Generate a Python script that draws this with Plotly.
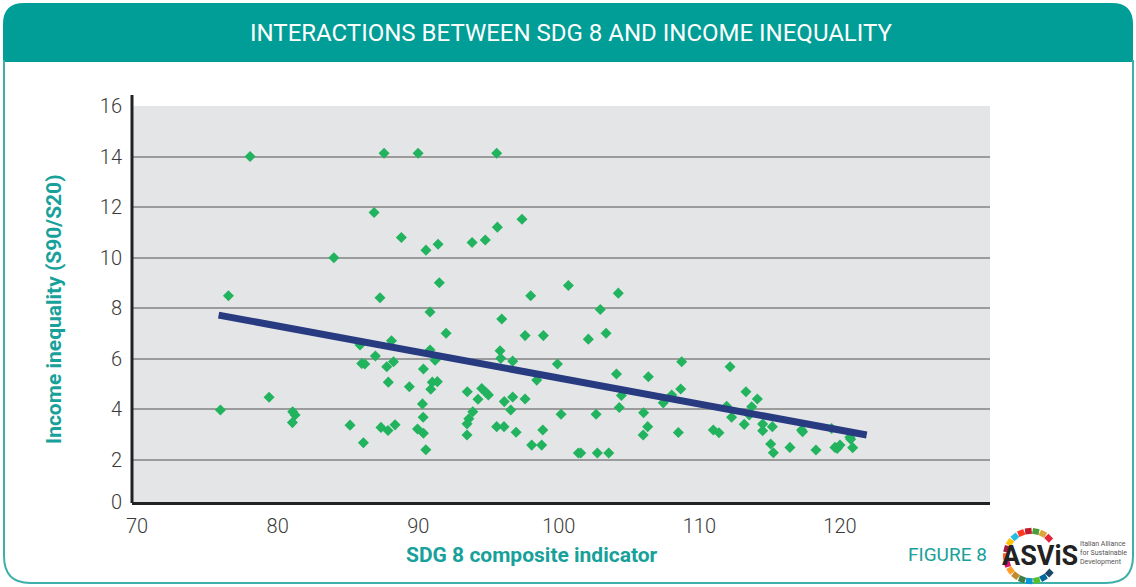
import math
import plotly.graph_objects as go

# ---- data ----
sdg8 = [78.04, 87.57, 89.99, 95.58, 86.86, 88.8, 84.0, 76.5, 87.28, 90.55,
        91.41, 93.83, 94.77, 95.63, 97.38, 91.5, 98.0, 100.68, 104.23, 90.84,
        102.95, 95.94, 91.98, 97.6, 98.9, 102.1, 103.36, 85.86, 88.1, 86.95,
        85.98, 86.2, 87.76, 88.24, 87.87, 75.93, 79.39, 81.07, 81.24, 81.05,
        85.15, 86.1, 87.35, 87.85, 88.35, 90.84, 91.2, 95.82, 95.87, 96.72,
        99.9, 89.37, 90.37, 91.0, 91.36, 90.89, 98.43, 93.49, 94.52, 94.82,
        94.99, 94.25, 96.12, 96.72, 97.6, 96.58, 104.1, 104.45, 104.3, 106.37,
        107.43, 106.03, 106.32, 106.0, 102.65, 100.16, 90.3, 90.35, 93.88, 93.6,
        93.47, 93.47, 89.95, 90.37, 90.54, 95.58, 96.1, 96.96, 98.86, 98.07,
        98.78, 101.39, 101.56, 102.74, 103.55, 108.5, 108.74, 108.67, 108.03, 112.18,
        111.94, 112.29, 110.99, 111.39, 113.31, 114.12, 113.72, 113.55, 113.19, 114.5,
        114.5, 115.19, 115.07, 115.26, 116.44, 117.27, 117.34, 118.29, 119.4, 119.64,
        120.0, 119.8, 120.76, 120.9, 120.7]
inequality = [14.0, 14.13, 14.13, 14.13, 11.79, 10.8, 10.0, 8.5, 8.42, 10.3,
              10.53, 10.6, 10.7, 11.21, 11.52, 9.01, 8.5, 8.9, 8.6, 7.85,
              7.95, 7.58, 7.01, 6.92, 6.92, 6.78, 7.01, 6.55, 6.72, 6.11,
              5.82, 5.8, 5.69, 5.89, 5.08, 3.98, 4.48, 3.91, 3.78, 3.48,
              3.38, 2.68, 3.29, 3.17, 3.39, 6.35, 5.95, 6.32, 6.02, 5.91,
              5.8, 4.9, 5.6, 5.08, 5.1, 4.8, 5.16, 4.7, 4.83, 4.67,
              4.57, 4.4, 4.31, 4.49, 4.41, 3.98, 5.4, 4.55, 4.08, 5.29,
              4.26, 3.87, 3.32, 2.99, 3.81, 3.81, 4.22, 3.69, 3.91, 3.63,
              3.43, 2.99, 3.23, 3.06, 2.41, 3.32, 3.32, 3.1, 3.19, 2.59,
              2.59, 2.28, 2.28, 2.28, 2.28, 3.09, 5.89, 4.81, 4.57, 5.69,
              4.13, 3.69, 3.19, 3.08, 4.7, 4.41, 4.11, 3.78, 3.41, 3.42,
              3.16, 3.32, 2.63, 2.29, 2.5, 3.19, 3.12, 2.4, 3.25, 2.5,
              2.59, 2.46, 2.82, 2.49, 2.9]
trend_x = [75.8, 121.9]
trend_y = [7.73, 2.99]

x_ticks = [70, 80, 90, 100, 110, 120]
y_tick_vals = [0.34, 2, 4, 6, 8, 10, 12, 14, 16]
y_tick_text = ["0", "2", "4", "6", "8", "10", "12", "14", "16"]

TITLE = "INTERACTIONS BETWEEN SDG 8 AND INCOME INEQUALITY"
X_TITLE = "SDG 8 composite indicator"
Y_TITLE = "Income inequality (S90/S20)"

# ---- geometry (pixels) ----
W, H = 1136, 587
L, R, T, B = 132, 990, 106, 502
TEAL = "#009e96"
TEXT_TEAL = "#17a19a"


def fx(px):
    return (px - L) / (R - L)


def fy(py):
    return (B - py) / (B - T)


fig = go.Figure()
fig.add_trace(go.Scatter(
    x=sdg8, y=inequality, mode="markers",
    marker=dict(symbol="diamond", size=8.5, color="#22b35e"),
    hoverinfo="x+y", showlegend=False))
fig.add_trace(go.Scatter(
    x=trend_x, y=trend_y, mode="lines",
    line=dict(color="#283b80", width=7), showlegend=False, hoverinfo="skip"))

shapes = []
# header bar
hdr = (f"M {fx(3)},{fy(62)} L {fx(3)},{fy(24)} Q {fx(3)},{fy(3)} {fx(24)},{fy(3)} "
       f"L {fx(1112)},{fy(3)} Q {fx(1133)},{fy(3)} {fx(1133)},{fy(24)} L {fx(1133)},{fy(62)} Z")
shapes.append(dict(type="path", xref="paper", yref="paper", path=hdr,
                   fillcolor=TEAL, line=dict(width=0)))
# card outline
card = (f"M {fx(4)},{fy(60)} L {fx(4)},{fy(556)} Q {fx(4)},{fy(583)} {fx(30)},{fy(583)} "
        f"L {fx(1106)},{fy(583)} Q {fx(1133)},{fy(583)} {fx(1133)},{fy(556)} L {fx(1133)},{fy(60)}")
shapes.append(dict(type="path", xref="paper", yref="paper", path=card,
                   line=dict(color="#3fb0a9", width=2)))
# left axis line (extends above the plot top)
shapes.append(dict(type="line", xref="paper", yref="paper",
                   x0=fx(132), x1=fx(132), y0=fy(95), y1=fy(503),
                   line=dict(color="#222222", width=3)))

# ASviS logo ring
sdg_cols = ["#E5243B", "#DDA63A", "#4C9F38", "#C5192D", "#FF3A21", "#26BDE2",
            "#FCC30B", "#A21942", "#FD6925", "#DD1367", "#FD9D24", "#BF8B2E",
            "#3F7E44", "#0A97D9", "#56C02B", "#00689D", "#19486A"]
cx, cy, rr = 1031, 556, 25
angles = [45, 62, 79, 96, 113, 130, 147, 164, 181, 198, 215, 232, 249, 266, 283, 300, 317]
for a, c in zip(angles, sdg_cols):
    t = math.radians(a)
    px0, py0 = cx + rr * math.cos(t), cy - rr * math.sin(t)
    dx, dy = -math.sin(t) * 3.3, -math.cos(t) * 3.3
    shapes.append(dict(type="line", xref="paper", yref="paper",
                       x0=fx(px0 - dx), y0=fy(py0 - dy), x1=fx(px0 + dx), y1=fy(py0 + dy),
                       line=dict(color=c, width=6)))

annotations = [
    dict(text=TITLE, x=fx(571), y=fy(33), xref="paper", yref="paper",
         showarrow=False, font=dict(family="Roboto", size=24, color="white"),
         xanchor="center", yanchor="middle"),
    dict(text=f"<b>{X_TITLE}</b>", x=fx(532), y=fy(555), xref="paper", yref="paper",
         showarrow=False, font=dict(family="Roboto", size=21, color=TEXT_TEAL),
         xanchor="center", yanchor="middle"),
    dict(text=f"<b>{Y_TITLE}</b>", x=fx(54), y=fy(309), xref="paper", yref="paper",
         showarrow=False, textangle=-90, font=dict(family="Roboto", size=21, color=TEXT_TEAL),
         xanchor="center", yanchor="middle"),
    dict(text="FIGURE 8", x=fx(989), y=fy(554), xref="paper", yref="paper",
         showarrow=False, font=dict(family="Roboto", size=19, color=TEXT_TEAL),
         xanchor="right", yanchor="middle"),
    dict(text="<b>ASViS</b>", x=fx(1040), y=fy(556), xref="paper", yref="paper",
         showarrow=False, font=dict(family="Roboto", size=27, color="#222222"),
         xanchor="center", yanchor="middle"),
    dict(text="Italian Alliance<br>for Sustainable<br>Development", x=fx(1078), y=fy(553),
         xref="paper", yref="paper", align="left",
         showarrow=False, font=dict(family="Roboto", size=7, color="#555555"),
         xanchor="left", yanchor="middle"),
]

fig.update_layout(
    width=W, height=H,
    margin=dict(l=L, r=W - R, t=T, b=H - B, pad=0),
    paper_bgcolor="white", plot_bgcolor="#e4e5e7",
    shapes=shapes, annotations=annotations,
    xaxis=dict(range=[69.64, 130.67], tickvals=x_ticks, showgrid=False, zeroline=False,
               showline=True, linecolor="#222222", linewidth=3,
               tickfont=dict(family="Roboto", size=20, color="#3a3a3a", weight=300),
               ticklabelstandoff=4, fixedrange=True),
    yaxis=dict(range=[0.34, 16], tickvals=y_tick_vals, ticktext=y_tick_text,
               showgrid=True, gridcolor="#9b9b9b", gridwidth=2, zeroline=False,
               showline=False,
               tickfont=dict(family="Roboto", size=20, color="#3a3a3a", weight=300),
               ticklabelstandoff=9, fixedrange=True),
)

fig.write_html("out.html", config={"displayModeBar": False},
               post_script="document.body.style.margin='0';document.body.style.overflow='hidden';")
